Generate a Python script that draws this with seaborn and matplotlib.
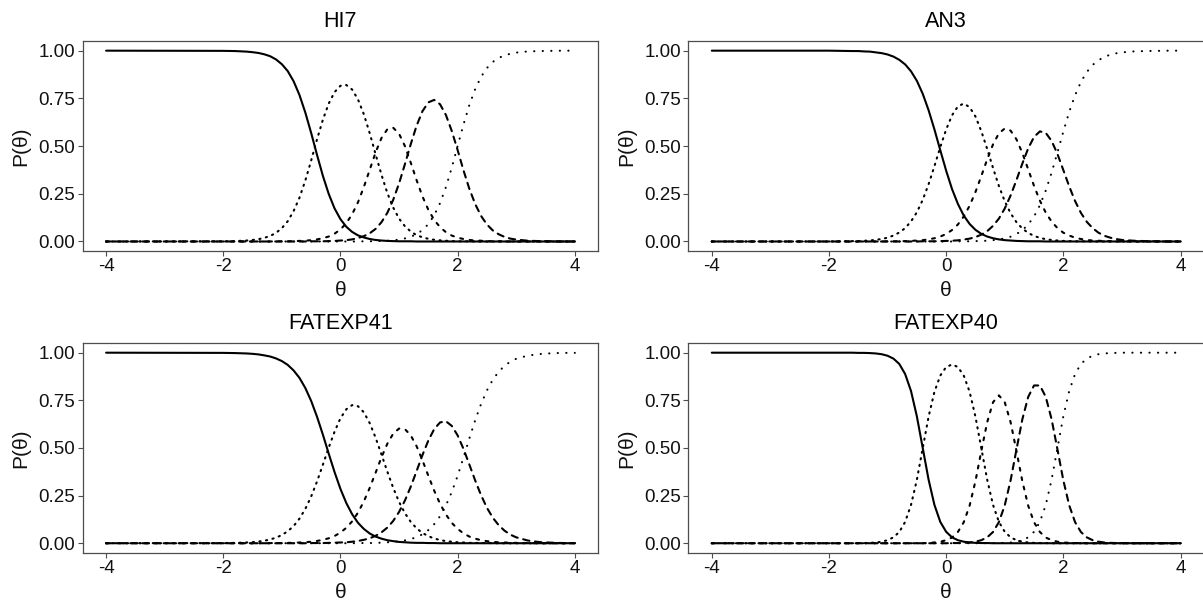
import matplotlib
matplotlib.use("Agg")
import matplotlib.pyplot as plt
from matplotlib.ticker import FormatStrFormatter
import numpy as np
import pandas as pd
import seaborn as sns

# theta grid shared by all four items
theta = [-4.0, -2.0, -1.8, -1.6,
         -1.5, -1.4, -1.3, -1.2, -1.1, -1.0, -0.9, -0.8, -0.7, -0.6,
         -0.5, -0.4, -0.3, -0.2, -0.1, 0.0, 0.1, 0.2, 0.3, 0.4,
         0.5, 0.6, 0.7, 0.8, 0.9, 1.0, 1.1, 1.2, 1.3, 1.4,
         1.5, 1.6, 1.7, 1.8, 1.9, 2.0, 2.1, 2.2, 2.3, 2.4,
         2.5, 2.6, 2.7, 2.8, 2.9, 3.0,
         3.2, 3.4, 3.6, 3.8, 4.0]

hi7_cat1 = [1.000, .999, .998, .995,
            .992, .988, .981, .971, .954, .929, .893, .840, .768, .676,
            .569, .454, .344, .249, .173, .117, .077, .050, .032, .021,
            .013, .008, .005, .003, .002, .001, .001, .001, 0, 0,
            0, 0, 0, 0, 0, 0, 0, 0, 0, 0,
            0, 0, 0, 0, 0, 0,
            0, 0, 0, 0, 0]
hi7_cat2 = [0, .001, .002, .005,
            .008, .012, .019, .029, .045, .070, .106, .159, .229, .319,
            .424, .535, .638, .723, .783, .816, .820, .796, .744, .666,
            .567, .457, .350, .254, .178, .120, .080, .052, .033, .022,
            .014, .009, .006, .004, .002, .001, .001, .001, 0, 0,
            0, 0, 0, 0, 0, 0,
            0, 0, 0, 0, 0]
hi7_cat3 = [0, 0, 0, 0,
            0, 0, 0, 0, .001, .001, .001, .002, .003, .004,
            .007, .011, .017, .026, .041, .063, .096, .143, .206, .286,
            .376, .467, .542, .588, .596, .565, .500, .413, .321, .236,
            .166, .113, .075, .049, .031, .020, .013, .008, .005, .004,
            .002, .001, .001, .001, 0, 0,
            0, 0, 0, 0, 0]
hi7_cat4 = [0, 0, 0, 0,
            0, 0, 0, 0, 0, 0, 0, 0, 0, 0,
            .001, .001, .001, .002, .003, .005, .007, .011, .018, .028,
            .043, .066, .101, .150, .218, .304, .405, .510, .607, .683,
            .729, .742, .719, .663, .579, .479, .373, .276, .196, .134,
            .089, .058, .038, .024, .015, .010,
            .004, .002, .001, 0, 0]
hi7_cat5 = [0, 0, 0, 0,
            0, 0, 0, 0, 0, 0, 0, 0, 0, 0,
            0, 0, 0, 0, 0, 0, 0, 0, 0, .001,
            .001, .002, .003, .004, .006, .010, .016, .025, .038, .060,
            .091, .137, .201, .285, .387, .500, .613, .715, .799, .863,
            .909, .941, .962, .975, .984, .990,
            .996, .998, .999, 1.0, 1.0]

an3_cat1 = [1.0, 1.0, .999, .998,
            .998, .996, .995, .991, .987, .980, .969, .952, .928, .892,
            .842, .774, .688, .587, .478, .371, .275, .197, .136, .092,
            .061, .040, .026, .017, .011, .007, .005, .003, .002, .001,
            .001, .001, 0, 0, 0, 0, 0, 0, 0, 0,
            0, 0, 0, 0, 0, 0,
            0, 0, 0, 0, 0]
an3_cat2 = [0, 0, .001, .002,
            .002, .004, .005, .009, .013, .020, .031, .047, .070, .105,
            .153, .218, .300, .395, .495, .587, .661, .708, .723, .704,
            .655, .578, .485, .385, .291, .211, .148, .101, .068, .045,
            .029, .019, .012, .008, .005, .003, .002, .001, .001, .001,
            0, 0, 0, 0, 0, 0,
            0, 0, 0, 0, 0]
an3_cat3 = [0, 0, 0, 0,
            0, 0, 0, 0, 0, .001, .001, .001, .002, .003,
            .005, .007, .011, .017, .026, .039, .060, .089, .131, .187,
            .259, .343, .430, .509, .567, .592, .581, .535, .464, .378,
            .291, .214, .151, .104, .070, .046, .031, .020, .013, .008,
            .005, .004, .002, .002, .001, .001,
            0, 0, 0, 0, 0]
an3_cat4 = [0, 0, 0, 0,
            0, 0, 0, 0, 0, 0, 0, 0, 0, 0,
            0, .001, .001, .001, .002, .003, .004, .006, .010, .015,
            .023, .036, .054, .082, .120, .173, .241, .322, .408, .488,
            .548, .577, .569, .527, .458, .374, .289, .212, .150, .103,
            .070, .046, .030, .020, .013, .008,
            .004, .002, .001, 0, 0]
an3_cat5 = [0, 0, 0, 0,
            0, 0, 0, 0, 0, 0, 0, 0, 0, 0,
            0, 0, 0, 0, 0, 0, 0, .001, .001, .001,
            .002, .003, .004, .007, .011, .016, .025, .039, .059, .089,
            .131, .190, .267, .361, .467, .576, .679, .766, .836, .888,
            .925, .950, .967, .979, .986, .991,
            .996, .998, .999, 1.0, 1.0]

fatexp41_cat1 = [1.0, .999, .998, .996,
                 .994, .991, .986, .980, .970, .956, .936, .907, .868, .815,
                 .747, .664, .570, .470, .373, .285, .211, .152, .107, .075,
                 .051, .035, .024, .016, .011, .007, .005, .003, .002, .002,
                 .001, .001, 0, 0, 0, 0, 0, 0, 0, 0,
                 0, 0, 0, 0, 0, 0,
                 0, 0, 0, 0, 0]
fatexp41_cat2 = [0, .001, .002, .004,
                 .006, .009, .013, .020, .029, .043, .063, .090, .129, .180,
                 .245, .324, .412, .502, .586, .656, .703, .725, .719, .687,
                 .630, .554, .466, .376, .291, .217, .158, .112, .078, .054,
                 .037, .025, .017, .011, .008, .005, .004, .002, .002, .001,
                 .001, .001, 0, 0, 0, 0,
                 0, 0, 0, 0, 0]
fatexp41_cat3 = [0, 0, 0, 0,
                 0, 0, 0, .001, .001, .001, .002, .002, .004, .005,
                 .008, .012, .018, .026, .038, .056, .081, .115, .161, .220,
                 .291, .370, .451, .522, .575, .602, .599, .566, .509, .435,
                 .354, .276, .207, .151, .107, .075, .052, .035, .024, .016,
                 .011, .007, .005, .004, .002, .002,
                 .001, 0, 0, 0, 0]
fatexp41_cat4 = [0, 0, 0, 0,
                 0, 0, 0, 0, 0, 0, 0, 0, 0, 0,
                 .001, .001, .001, .002, .003, .004, .005, .008, .012, .018,
                 .026, .039, .057, .082, .117, .164, .224, .297, .379, .463,
                 .539, .599, .634, .640, .616, .566, .495, .413, .329, .252,
                 .186, .134, .095, .066, .045, .031,
                 .014, .006, .003, .001, .001]
fatexp41_cat5 = [0, 0, 0, 0,
                 0, 0, 0, 0, 0, 0, 0, 0, 0, 0,
                 0, 0, 0, 0, 0, 0, 0, 0, .001, .001,
                 .001, .002, .003, .005, .007, .010, .015, .022, .032, .047,
                 .069, .100, .142, .198, .269, .354, .450, .550, .646, .731,
                 .802, .858, .900, .931, .953, .968,
                 .985, .993, .997, .999, .999]

fatexp40_cat1 = [1.0, 1.0, 1.0, 1.0,
                 .999, .999, .998, .996, .992, .984, .969, .941, .888, .799,
                 .666, .500, .334, .201, .112, .060, .031, .016, .008, .004,
                 .002, .001, .001, 0, 0, 0, 0, 0, 0, 0,
                 0, 0, 0, 0, 0, 0, 0, 0, 0, 0,
                 0, 0, 0, 0, 0, 0,
                 0, 0, 0, 0, 0]
fatexp40_cat2 = [0, 0, 0, 0,
                 .001, .001, .002, .004, .008, .016, .031, .059, .112, .201,
                 .333, .499, .664, .795, .880, .925, .938, .925, .880, .795,
                 .664, .499, .334, .201, .112, .060, .031, .016, .008, .004,
                 .002, .001, .001, 0, 0, 0, 0, 0, 0, 0,
                 0, 0, 0, 0, 0, 0,
                 0, 0, 0, 0, 0]
fatexp40_cat3 = [0, 0, 0, 0,
                 0, 0, 0, 0, 0, 0, 0, 0, 0, 0,
                 0, 0, .002, .004, .008, .016, .030, .059, .110, .197,
                 .326, .484, .635, .740, .776, .740, .635, .484, .326, .197,
                 .110, .059, .030, .016, .008, .004, .002, .001, .001, 0,
                 0, 0, 0, 0, 0, 0,
                 0, 0, 0, 0, 0]
fatexp40_cat4 = [0, 0, 0, 0,
                 0, 0, 0, 0, 0, 0, 0, 0, 0, 0,
                 0, 0, 0, 0, 0, 0, .001, .001, .002, .004,
                 .008, .016, .031, .059, .111, .199, .330, .492, .650, .768,
                 .828, .828, .768, .650, .492, .330, .199, .111, .059, .031,
                 .016, .008, .004, .002, .001, .001,
                 0, 0, 0, 0, 0]
fatexp40_cat5 = [0, 0, 0, 0,
                 0, 0, 0, 0, 0, 0, 0, 0, 0, 0,
                 0, 0, 0, 0, 0, 0, 0, 0, 0, 0,
                 0, 0, 0, .001, .001, .002, .004, .008, .016, .031,
                 .060, .112, .201, .334, .500, .666, .799, .888, .941, .969,
                 .984, .992, .996, .998, .999, 1.0,
                 1.0, 1.0, 1.0, 1.0, 1.0]

panels = [
    ("HI7", [hi7_cat1, hi7_cat2, hi7_cat3, hi7_cat4, hi7_cat5]),
    ("AN3", [an3_cat1, an3_cat2, an3_cat3, an3_cat4, an3_cat5]),
    ("FATEXP41", [fatexp41_cat1, fatexp41_cat2, fatexp41_cat3, fatexp41_cat4, fatexp41_cat5]),
    ("FATEXP40", [fatexp40_cat1, fatexp40_cat2, fatexp40_cat3, fatexp40_cat4, fatexp40_cat5]),
]

# axes boxes in figure fraction [left, bottom, width, height]
positions = [
    [0.0687, 0.5837, 0.4286, 0.3481],
    [0.5722, 0.5837, 0.4286, 0.3481],
    [0.0687, 0.0833, 0.4286, 0.3476],
    [0.5722, 0.0833, 0.4286, 0.3476],
]

sns.set_style("ticks")
plt.rcParams["font.family"] = ["Liberation Sans", "DejaVu Sans"]
plt.rcParams["axes.unicode_minus"] = False

cat_names = ["1", "2", "3", "4", "5"]
dash_styles = {"1": "", "2": (0.6, 2.6), "3": (1.4, 3.2), "4": (3.1, 2.7), "5": (0.1, 4.0)}
edge = "#4d4d4d"

fig = plt.figure(figsize=(12.03, 6.03), dpi=100)

for (title, cats), pos in zip(panels, positions):
    ax = fig.add_axes(pos)
    df = pd.DataFrame({
        "theta": np.tile(theta, len(cats)),
        "P": np.concatenate(cats),
        "cat": np.repeat(cat_names, len(theta)),
    })
    sns.lineplot(data=df, x="theta", y="P", style="cat", style_order=cat_names,
                 dashes=dash_styles, color="black", linewidth=1.5, legend=False,
                 errorbar=None, ax=ax, dash_capstyle="round")
    ax.set_xlim(-4.4, 4.4)
    ax.set_ylim(-0.05, 1.05)
    ax.set_xticks([-4, -2, 0, 2, 4])
    ax.set_yticks([0, 0.25, 0.5, 0.75, 1.0])
    ax.yaxis.set_major_formatter(FormatStrFormatter("%.2f"))
    ax.tick_params(direction="out", length=3.3, width=0.8, color=edge,
                   labelsize=13.5, pad=2, labelcolor="#111111")
    for sp in ax.spines.values():
        sp.set_visible(True)
        sp.set_color(edge)
        sp.set_linewidth(0.9)
    ax.set_title(title, fontsize=15.5, pad=10.5, color="black")
    ax.set_xlabel("θ", fontsize=15, labelpad=4, color="#111111")
    ax.set_ylabel("P(θ)", fontsize=15, labelpad=6, color="#111111")

fig.savefig("out.png", dpi=100, facecolor="white")
